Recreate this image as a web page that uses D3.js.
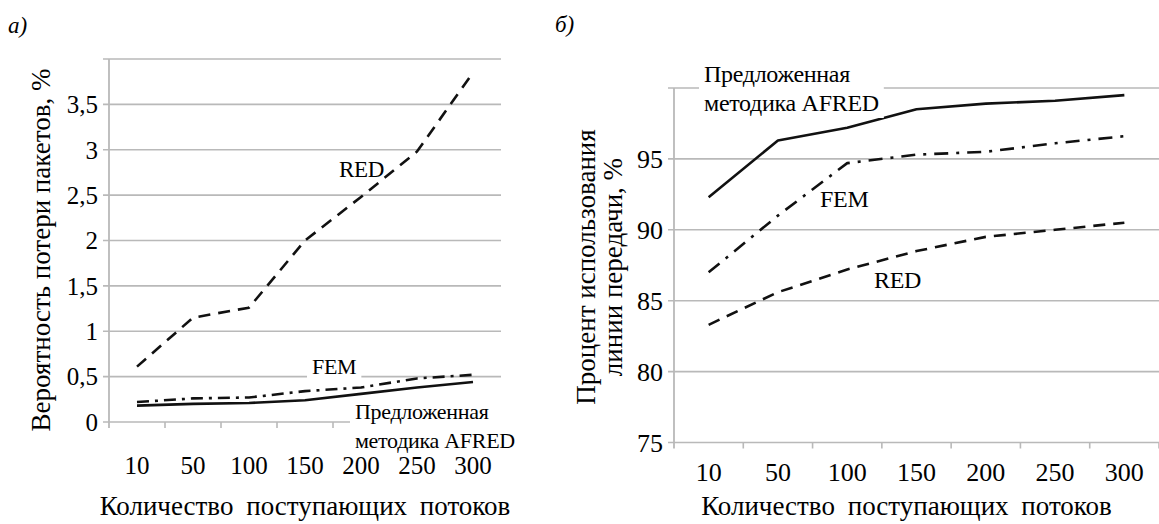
<!DOCTYPE html>
<html>
<head>
<meta charset="utf-8">
<script src="https://cdn.jsdelivr.net/npm/d3@7"></script>
<style>
  body { margin: 0; background: #fff; }
  text, tspan { font-family: "Liberation Serif", "Times New Roman", serif !important; }
</style>
</head>
<body>
<script>
// categories shared by both panels
var categories = ["10", "50", "100", "150", "200", "250", "300"];

// panel a) packet loss probability, %
var lossRED = [0.61, 1.15, 1.26, 2.0, 2.48, 2.98, 3.85];
var lossFEM = [0.22, 0.26, 0.27, 0.34, 0.38, 0.48, 0.52];
var lossAFRED = [0.18, 0.2, 0.21, 0.24, 0.31, 0.38, 0.44];
var lossTicks = [0, 0.5, 1, 1.5, 2, 2.5, 3, 3.5];
var lossGrid = [0, 0.5, 1, 1.5, 2, 2.5, 3, 3.5, 4];

// panel б) link utilisation, %
var utilAFRED = [92.3, 96.3, 97.2, 98.5, 98.9, 99.1, 99.5];
var utilFEM = [87.0, 91.0, 94.7, 95.3, 95.5, 96.1, 96.6];
var utilRED = [83.3, 85.6, 87.2, 88.5, 89.5, 90.0, 90.5];
var utilTicks = [75, 80, 85, 90, 95];
var utilGrid = [75, 80, 85, 90, 95, 100];

var W = 1159, H = 524;
var gridColor = "#b9b9b9";
var serif = "Liberation Serif";

var svg = d3.select("body").append("svg")
    .attr("width", W)
    .attr("height", H)
    .attr("font-family", serif);

// every text node gets the serif face directly
function txt(sel, size) {
    return sel.attr("font-family", serif)
        .style("font-family", serif)
        .attr("font-size", size)
        .style("font-size", size + "px")
        .attr("fill", "#000");
}

var commaFmt = function(d) { return String(d).replace(".", ","); };

function panel(opt) {
    var x = d3.scaleBand().domain(categories).range(opt.xRange).paddingInner(0).paddingOuter(0);
    var y = d3.scaleLinear().domain(opt.yDomain).range(opt.yRange);
    var cx = function(c) { return x(c) + x.bandwidth() / 2; };
    var g = svg.append("g");

    // gridlines
    g.append("g").selectAll("line")
        .data(opt.grid)
        .join("line")
        .attr("x1", opt.xRange[0] - 6)
        .attr("x2", opt.xRange[1])
        .attr("y1", d => y(d)).attr("y2", d => y(d))
        .attr("stroke", gridColor)
        .attr("stroke-width", 1.6);

    // y axis line
    g.append("line")
        .attr("x1", opt.xRange[0]).attr("x2", opt.xRange[0])
        .attr("y1", y(opt.yDomain[1])).attr("y2", y(opt.yDomain[0]) + 6)
        .attr("stroke", gridColor).attr("stroke-width", 1.8);

    // x ticks at band edges
    var edges = categories.map(c => x(c)).concat([opt.xRange[1]]);
    g.append("g").selectAll("line")
        .data(edges.slice(1))
        .join("line")
        .attr("x1", d => d).attr("x2", d => d)
        .attr("y1", y(opt.yDomain[0])).attr("y2", y(opt.yDomain[0]) + 6)
        .attr("stroke", gridColor).attr("stroke-width", 1.6);

    // y tick labels
    txt(g.append("g").selectAll("text")
        .data(opt.ticks)
        .join("text")
        .attr("x", opt.xRange[0] - 11)
        .attr("y", d => y(d))
        .attr("dy", "0.35em")
        .attr("text-anchor", "end"), opt.tickSize)
        .text(opt.fmt);

    // x tick labels
    txt(g.append("g").selectAll("text")
        .data(categories)
        .join("text")
        .attr("x", cx)
        .attr("y", opt.xLabelY)
        .attr("text-anchor", "middle"), opt.tickSize)
        .text(d => d);

    // x axis title
    txt(g.append("text")
        .attr("x", (opt.xRange[0] + opt.xRange[1]) / 2 + opt.titleShift)
        .attr("y", opt.xTitleY)
        .attr("text-anchor", "middle"), 27)
        .style("word-spacing", "6px")
        .text("Количество поступающих потоков");

    var line = d3.line()
        .x((d, i) => cx(categories[i]))
        .y(d => y(d));

    opt.series.forEach(function(s) {
        g.append("path")
            .datum(s.values)
            .attr("d", line)
            .attr("fill", "none")
            .attr("stroke", "#111")
            .attr("stroke-width", 2.6)
            .attr("stroke-dasharray", s.dash)
            .attr("stroke-linejoin", "round");
    });

    return {g: g, x: x, y: y};
}

function label(g, lines, x, y, size, lineH, boxed) {
    var t = txt(g.append("text")
        .attr("x", x)
        .attr("y", y), size)
        .style("letter-spacing", "-0.3px");
    lines.forEach(function(l, i) {
        t.append("tspan").attr("x", x).attr("dy", i === 0 ? 0 : lineH).text(l);
    });
    if (boxed) {
        var b = t.node().getBBox();
        g.insert("rect", function() { return t.node(); })
            .attr("x", b.x - 5).attr("y", b.y - 2)
            .attr("width", b.width + 10).attr("height", b.height + 4)
            .attr("fill", "#fff");
    }
}

// ---- panel a)
var a = panel({
    xRange: [109, 501], yDomain: [0, 4], yRange: [422, 59],
    grid: lossGrid, ticks: lossTicks, fmt: commaFmt,
    tickSize: 25, xLabelY: 474, xTitleY: 515, titleShift: 0,
    series: [
        {values: lossRED, dash: "12,8"},
        {values: lossFEM, dash: "12,6,3,6"},
        {values: lossAFRED, dash: null}
    ]
});

txt(a.g.append("text")
    .attr("transform", "translate(50,250) rotate(-90)")
    .attr("text-anchor", "middle"), 27)
    .text("Вероятность потери пакетов, %");

label(a.g, ["RED"], 339, 177, 23, 0, false);
label(a.g, ["FEM"], 312, 374, 22, 0, true);
label(a.g, ["Предложенная", "методика AFRED"], 355, 419, 22, 29, true);

// ---- panel б)
var b = panel({
    xRange: [674, 1159], yDomain: [75, 100], yRange: [442.5, 88],
    grid: utilGrid, ticks: utilTicks, fmt: d => d,
    tickSize: 26, xLabelY: 481, xTitleY: 515, titleShift: -10,
    series: [
        {values: utilRED, dash: "12,8"},
        {values: utilFEM, dash: "14,8,3,8"},
        {values: utilAFRED, dash: null}
    ]
});

txt(b.g.append("text")
    .attr("transform", "translate(595,267) rotate(-90)")
    .attr("text-anchor", "middle"), 27)
    .text("Процент использования");
txt(b.g.append("text")
    .attr("transform", "translate(622,267) rotate(-90)")
    .attr("text-anchor", "middle"), 27)
    .text("линии передачи, %");

label(b.g, ["FEM"], 820, 207, 24, 0, false);
label(b.g, ["RED"], 874, 288, 24, 0, false);
label(b.g, ["Предложенная", "методика AFRED"], 704, 82, 24, 29, true);

// panel letters
txt(svg.append("text").attr("x", 8).attr("y", 33), 23)
    .style("font-style", "italic").text("а)");
txt(svg.append("text").attr("x", 555).attr("y", 32), 23)
    .style("font-style", "italic").text("б)");
</script>
</body>
</html>
